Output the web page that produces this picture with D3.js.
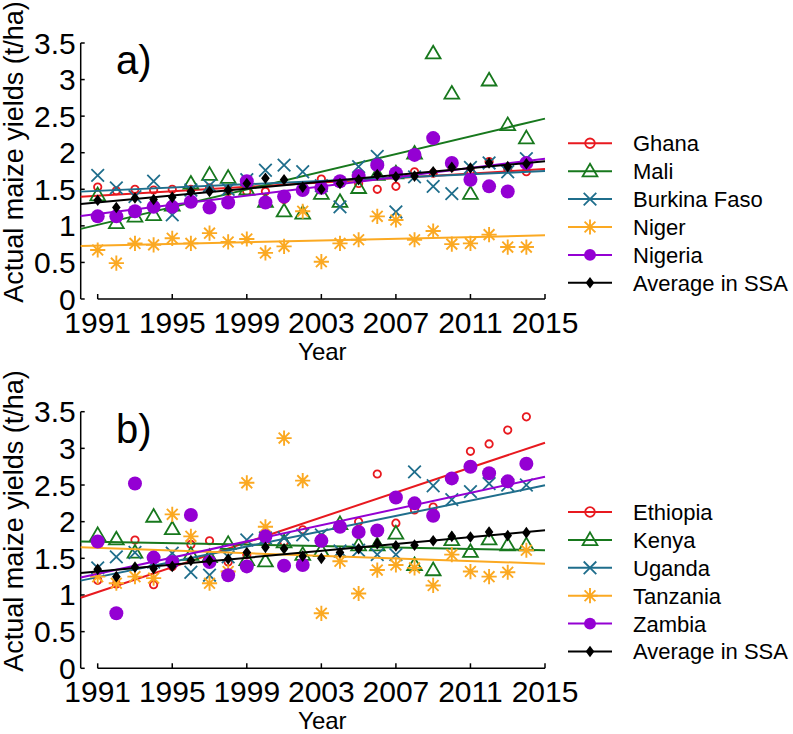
<!DOCTYPE html>
<html><head><meta charset="utf-8">
<script src="https://cdn.jsdelivr.net/npm/d3@7"></script>
<style>
body{margin:0;background:#fff}
svg{display:block}
text{font-family:"Liberation Sans",Arial,Helvetica,sans-serif;fill:#000}
</style>
</head><body>
<svg id="chart" width="793" height="734"></svg>
<script>
// ---------------- data ----------------
const years = [1991,1992,1993,1994,1995,1996,1997,1998,1999,2000,2001,2002,2003,2004,2005,2006,2007,2008,2009,2010,2011,2012,2013,2014];
const xTicks = [1991,1995,1999,2003,2007,2011,2015];
const yTicks = [0,0.5,1,1.5,2,2.5,3,3.5];
const yTickLabels = ["0","0.5","1","1.5","2","2.5","3","3.5"];
const yTitle = "Actual maize yields (t/ha)";
const xTitle = "Year";

// panel a
const namesA = ["Ghana","Mali","Burkina Faso","Niger","Nigeria","Average in SSA"];
const ghana   = [1.53,1.48,1.50,1.49,1.50,1.50,1.52,1.47,1.47,1.47,1.36,1.52,1.64,1.60,1.58,1.50,1.54,1.74,1.72,1.80,1.75,1.88,1.78,1.74];
const mali    = [1.42,1.04,1.13,1.15,1.28,1.58,1.70,1.66,1.50,1.33,1.20,1.17,1.44,1.33,1.52,1.70,1.72,1.99,3.36,2.81,1.44,2.99,2.38,2.20];
const burkina = [1.69,1.52,1.40,1.61,1.15,1.49,1.55,1.50,1.63,1.76,1.83,1.74,1.55,1.26,1.81,1.95,1.19,1.67,1.54,1.44,1.80,1.86,1.74,1.92];
const niger   = [0.67,0.49,0.76,0.74,0.83,0.76,0.90,0.78,0.82,0.63,0.72,1.20,0.51,0.76,0.81,1.13,1.08,0.81,0.93,0.75,0.76,0.88,0.71,0.71];
const nigeria = [1.13,1.13,1.20,1.26,1.26,1.33,1.25,1.32,1.61,1.32,1.40,1.49,1.52,1.61,1.68,1.83,1.72,1.97,2.20,1.86,1.63,1.54,1.47,1.86];
const avgSSA  = [1.35,1.25,1.38,1.36,1.39,1.47,1.47,1.49,1.58,1.65,1.63,1.53,1.50,1.58,1.63,1.70,1.67,1.68,1.74,1.80,1.79,1.86,1.81,1.85];

// panel b
const namesB = ["Ethiopia","Kenya","Uganda","Tanzania","Zambia","Average in SSA"];
const ethiopia = [1.20,1.15,1.75,1.14,1.39,1.69,1.74,1.45,1.55,1.70,1.72,1.89,1.78,1.95,2.00,2.65,1.98,2.16,2.20,2.60,2.96,3.06,3.25,3.43];
const kenya    = [1.82,1.76,1.58,2.07,1.90,1.55,1.52,1.70,1.48,1.46,1.72,1.55,1.60,1.97,1.68,1.68,1.84,1.41,1.34,1.75,1.59,1.76,1.68,1.68];
const uganda   = [1.37,1.52,1.58,1.45,1.57,1.31,1.27,1.52,1.75,1.78,1.78,1.82,1.82,1.60,1.61,1.55,1.55,2.68,2.49,2.30,2.41,2.52,2.50,2.50];
const tanzania = [1.25,1.16,1.25,1.23,2.10,1.80,1.16,1.32,2.53,1.93,3.14,2.56,0.75,1.46,1.02,1.34,1.41,1.37,1.13,1.55,1.32,1.25,1.31,1.61];
const zambia   = [1.73,0.75,2.52,1.51,1.45,2.09,1.45,1.27,1.39,1.80,1.40,1.41,1.74,1.93,1.86,1.88,2.33,2.25,2.08,2.59,2.75,2.66,2.55,2.79];

// ---------------- styles ----------------
const colors = ["#e8191f","#17781d","#1f6e8c","#fba922","#9400d3","#000000"];
const markers = ["circle","triangle","x","asterisk","dot","diamond"];

const svg = d3.select("#chart");
const yAxisX = 80.7;
const x = d3.scaleLinear().domain([1991,2015]).range([97.7,545]);

function markerPath(type, k){
  k = k || 1;
  switch(type){
    case "circle": { const r=3.7*k; return `M${r},0A${r},${r} 0 1,1 ${-r},0A${r},${r} 0 1,1 ${r},0Z`; }
    case "triangle": return `M0,${-7.5*k}L${7.4*k},${5.2*k}L${-7.4*k},${5.2*k}Z`;
    case "x": { const a=6.3*k; return `M${-a},${-a}L${a},${a}M${-a},${a}L${a},${-a}`; }
    case "asterisk": { const a=7.6*k, b=5.4*k; return `M${-a},0L${a},0M0,${-a}L0,${a}M${-b},${-b}L${b},${b}M${-b},${b}L${b},${-b}`; }
    case "dot": { const r=7*k; return `M${r},0A${r},${r} 0 1,1 ${-r},0A${r},${r} 0 1,1 ${r},0Z`; }
    case "diamond": return `M0,${-5.8*k}L${4.3*k},0L0,${5.8*k}L${-4.3*k},0Z`;
  }
}
function markerStyle(sel, type, color){
  const filled = (type==="dot"||type==="diamond");
  sel.attr("fill", filled?color:"none")
     .attr("stroke", filled?"none":color)
     .attr("stroke-width", type==="asterisk"?1.9:1.8)
     .attr("stroke-linecap","butt");
}

function regression(xs, ys){
  const mx = d3.mean(xs), my = d3.mean(ys);
  let sxy=0, sxx=0;
  xs.forEach((xv,i)=>{ sxy+=(xv-mx)*(ys[i]-my); sxx+=(xv-mx)*(xv-mx); });
  const b = sxy/sxx; return {a: my-b*mx, b};
}

function drawPanel(top, bottom, label, names, seriesList){
  const y = d3.scaleLinear().domain([0,3.5]).range([bottom, top]);
  const g = svg.append("g");

  // y axis
  g.append("line").attr("x1",yAxisX).attr("x2",yAxisX).attr("y1",y(0)).attr("y2",y(3.5))
    .attr("stroke","#000").attr("stroke-width",1.5);
  yTicks.forEach((t,i)=>{
    g.append("line").attr("x1",yAxisX).attr("x2",yAxisX+4).attr("y1",y(t)).attr("y2",y(t))
      .attr("stroke","#000").attr("stroke-width",1.5);
    g.append("text").attr("x",yAxisX-5).attr("y",y(t)).attr("dy","0.35em")
      .attr("text-anchor","end").attr("font-size",30).text(yTickLabels[i]);
  });
  // x axis
  g.append("line").attr("x1",x(1991)).attr("x2",x(2015)).attr("y1",bottom).attr("y2",bottom)
    .attr("stroke","#000").attr("stroke-width",1.5);
  xTicks.forEach(t=>{
    g.append("line").attr("x1",x(t)).attr("x2",x(t)).attr("y1",bottom).attr("y2",bottom-5)
      .attr("stroke","#000").attr("stroke-width",1.5);
    g.append("text").attr("x",x(t)).attr("y",bottom+34).attr("text-anchor","middle")
      .attr("font-size",30).text(t);
  });
  g.append("text").attr("x",(x(1991)+x(2015))/2+1).attr("y",bottom+61).attr("text-anchor","middle")
    .attr("font-size",24).text(xTitle);
  g.append("text").attr("transform",`translate(23,${(top+bottom)/2-19}) rotate(-90)`)
    .attr("text-anchor","middle").attr("font-size",27).text(yTitle);
  g.append("text").attr("x",116).attr("y",top+31).attr("font-size",40).text(label);

  // series
  const x0 = x.invert(yAxisX);
  seriesList.forEach((vals,si)=>{
    const type = markers[si], color = colors[si];
    const sg = g.append("g");
    sg.selectAll("path.m").data(years.map((yr,i)=>({yr, v:vals[i]}))).join("path")
      .attr("class","m")
      .attr("transform",d=>`translate(${x(d.yr)},${y(d.v)})`)
      .attr("d",markerPath(type))
      .call(markerStyle, type, color);
    const r = regression(years, vals);
    sg.append("line")
      .attr("x1",x(x0)).attr("y1",y(r.a+r.b*x0))
      .attr("x2",x(2015)).attr("y2",y(r.a+r.b*2015))
      .attr("stroke",color).attr("stroke-width",2);
  });

  // legend
  const legTop = top + 100.3, legStep = 27.9;
  names.forEach((n,i)=>{
    const ly = legTop + i*legStep;
    g.append("line").attr("x1",568).attr("x2",612).attr("y1",ly).attr("y2",ly)
      .attr("stroke",colors[i]).attr("stroke-width",2);
    g.append("path").attr("transform",`translate(590,${ly})`)
      .attr("d",markerPath(markers[i], markers[i]==="circle"?1.3:(markers[i]==="dot"?0.85:1)))
      .call(markerStyle, markers[i], colors[i]);
    g.append("text").attr("x",633).attr("y",ly).attr("dy","0.36em").attr("font-size",22).text(n);
  });
}

drawPanel(43, 299, "a)", namesA, [ghana, mali, burkina, niger, nigeria, avgSSA]);
drawPanel(411.7, 668.3, "b)", namesB, [ethiopia, kenya, uganda, tanzania, zambia, avgSSA]);
</script>
</body></html>
